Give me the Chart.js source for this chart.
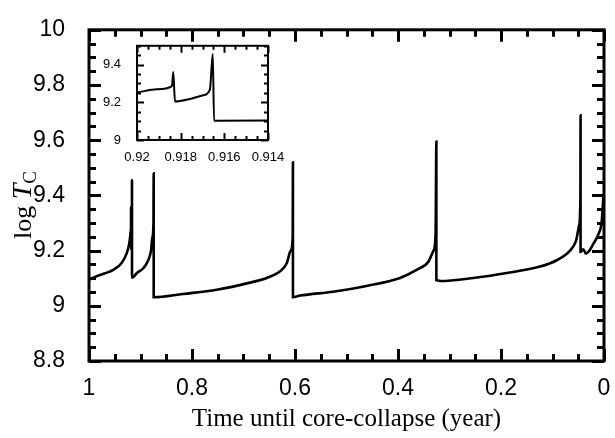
<!DOCTYPE html>
<html>
<head>
<meta charset="utf-8">
<title>Central temperature</title>
<script src="https://cdn.jsdelivr.net/npm/chart.js@4.4.1/dist/chart.umd.min.js"></script>
<style>
  html, body { margin: 0; padding: 0; background: #fff; }
  #wrap { position: relative; width: 615px; height: 438px; }
  #mainChart { position: absolute; left: 0; top: 0; }
  #insetChart { position: absolute; left: 90px; top: 30px; }
</style>
</head>
<body>
<div id="wrap">
  <canvas id="mainChart" width="615" height="438"></canvas>
  <canvas id="insetChart" width="195" height="140"></canvas>
</div>
<script>
// time until core collapse (yr) and log of central temperature
const timeYears = [
  1.000, 0.985, 0.970, 0.953, 0.937, 0.927, 0.922,
  0.9200, 0.9191, 0.9184, 0.91834, 0.91826, 0.91757, 0.91696, 0.91666, 0.91653, 0.91647, 0.914,
  0.907, 0.8946, 0.885, 0.8796, 0.877, 0.8748, 0.8744, 0.8744,
  0.8175, 0.752, 0.6874, 0.655, 0.629, 0.616, 0.6083, 0.6045, 0.6040, 0.6040,
  0.590, 0.526, 0.461, 0.396, 0.364, 0.341, 0.331, 0.327, 0.3255, 0.3255,
  0.3184, 0.2538, 0.189, 0.1243, 0.0918, 0.066, 0.0544, 0.048, 0.0458, 0.0455, 0.0455,
  0.0402, 0.0355, 0.0305, 0.0208, 0.011, 0.0045, 0.001
];
const logTc = [
  9.095, 9.107, 9.117, 9.130, 9.154, 9.189, 9.224,
  9.252, 9.269, 9.286, 9.361, 9.204, 9.218, 9.238, 9.269, 9.456, 9.102, 9.104,
  9.119, 9.136, 9.165, 9.200, 9.247, 9.300, 9.480, 9.031,
  9.043, 9.058, 9.084, 9.101, 9.125, 9.154, 9.200, 9.248, 9.520, 9.031,
  9.037, 9.051, 9.072, 9.101, 9.130, 9.160, 9.200, 9.259, 9.595, 9.093,
  9.090, 9.101, 9.119, 9.142, 9.165, 9.200, 9.235, 9.294, 9.400, 9.690, 9.195,
  9.205, 9.189, 9.195, 9.224, 9.259, 9.305, 9.400
];

const xTicks = [0, 0.2, 0.4, 0.6, 0.8, 1];
const yTicks = [8.8, 9, 9.2, 9.4, 9.6, 9.8, 10];
const insetXTicks = [0.914, 0.916, 0.918, 0.92];
const insetYTicks = [9, 9.2, 9.4];

const points = timeYears.map((t, i) => ({ x: t, y: logTc[i] }));

const sans = "'Liberation Sans', Arial, Helvetica, sans-serif";
const serif = "'Liberation Serif', 'Times New Roman', serif";
const plainNumber = v => String(Number(v.toFixed(4)));

// box around the plot with inward major/minor ticks on all four sides
const framePlugin = {
  id: 'frame',
  afterDatasetsDraw(chart, args, opts) {
    const { ctx, chartArea: a, scales: { x, y } } = chart;
    ctx.save();
    ctx.strokeStyle = '#000';
    ctx.lineWidth = opts.width;
    ctx.beginPath();
    const minors = (lo, hi, step) => {
      const out = [];
      const n = Math.round((hi - lo) / step);
      for (let i = 0; i <= n; i++) out.push(lo + i * step);
      return out;
    };
    const xs = [[opts.xMajor, opts.major], [minors(x.min, x.max, opts.xStep), opts.minor]];
    const ys = [[opts.yMajor, opts.major], [minors(y.min, y.max, opts.yStep), opts.minor]];
    xs.forEach(([vals, len]) => vals.forEach(v => {
      const px = Math.round(x.getPixelForValue(v)) + 0.5;
      ctx.moveTo(px, a.bottom); ctx.lineTo(px, a.bottom - len);
      ctx.moveTo(px, a.top); ctx.lineTo(px, a.top + len);
    }));
    ys.forEach(([vals, len]) => vals.forEach(v => {
      const py = Math.round(y.getPixelForValue(v)) + 0.5;
      ctx.moveTo(a.left, py); ctx.lineTo(a.left + len, py);
      ctx.moveTo(a.right, py); ctx.lineTo(a.right - len, py);
    }));
    ctx.stroke();
    ctx.strokeRect(a.left, a.top, a.right - a.left, a.bottom - a.top);
    ctx.restore();
  }
};

// rotated "log T_C" title, italic T with upright subscript
const yTitlePlugin = {
  id: 'yTitle',
  afterDraw(chart) {
    const ctx = chart.ctx;
    ctx.save();
    ctx.translate(31, 205);
    ctx.rotate(-Math.PI / 2);
    ctx.fillStyle = '#000';
    ctx.textBaseline = 'alphabetic';
    ctx.textAlign = 'left';
    const parts = [
      { text: 'log ', font: '26px ' + serif, dy: 0 },
      { text: 'T', font: 'italic 28px ' + serif, dy: 0 },
      { text: 'C', font: '19px ' + serif, dy: 5 }
    ];
    let total = 0;
    parts.forEach(p => { ctx.font = p.font; p.w = ctx.measureText(p.text).width; total += p.w; });
    let cx = -total / 2;
    parts.forEach(p => {
      ctx.font = p.font;
      ctx.fillText(p.text, cx, p.dy);
      cx += p.w;
    });
    ctx.restore();
  }
};

const curve = width => ({
  data: points,
  borderColor: '#000',
  borderWidth: width,
  pointRadius: 0,
  cubicInterpolationMode: 'monotone',
  fill: false
});

new Chart(document.getElementById('mainChart'), {
  type: 'line',
  data: { datasets: [curve(2.6)] },
  options: {
    responsive: false,
    animation: false,
    layout: { padding: { top: 18, right: 11, left: 0, bottom: 0 } },
    plugins: {
      legend: { display: false },
      tooltip: { enabled: false },
      frame: { width: 3, major: 12, minor: 7, xStep: 0.05, yStep: 0.05, xMajor: xTicks, yMajor: yTicks }
    },
    scales: {
      x: {
        type: 'linear',
        reverse: true,
        min: 0,
        max: 1,
        grid: { display: false },
        border: { display: false },
        afterBuildTicks: s => { s.ticks = xTicks.map(v => ({ value: v })); },
        afterFit: s => { s.height = 77; },
        ticks: { color: '#000', font: { family: sans, size: 23 }, padding: 6, maxRotation: 0, callback: plainNumber },
        title: {
          display: true,
          text: 'Time until core-collapse (year)',
          color: '#000',
          font: { family: serif, size: 25 },
          padding: { top: 0, bottom: 4 }
        }
      },
      y: {
        min: 8.8,
        max: 10,
        grid: { display: false },
        border: { display: false },
        afterBuildTicks: s => { s.ticks = yTicks.map(v => ({ value: v })); },
        afterFit: s => { s.width = 89; },
        ticks: { color: '#000', font: { family: sans, size: 23 }, padding: 16, callback: plainNumber }
      }
    }
  },
  plugins: [framePlugin, yTitlePlugin]
});

// zoomed view of the two flashes near 0.92 yr
new Chart(document.getElementById('insetChart'), {
  type: 'line',
  data: { datasets: [curve(2)] },
  options: {
    responsive: false,
    animation: false,
    layout: { padding: { top: 12, right: 17, left: 0, bottom: 0 } },
    plugins: {
      legend: { display: false },
      tooltip: { enabled: false },
      frame: { width: 2, major: 7, minor: 4, xStep: 0.0005, yStep: 0.05, xMajor: insetXTicks, yMajor: insetYTicks }
    },
    scales: {
      x: {
        type: 'linear',
        reverse: true,
        min: 0.914,
        max: 0.92,
        grid: { display: false },
        border: { display: false },
        afterBuildTicks: s => { s.ticks = insetXTicks.map(v => ({ value: v })); },
        afterFit: s => { s.height = 30; },
        ticks: { color: '#000', font: { family: sans, size: 13 }, padding: 2, maxRotation: 0, callback: plainNumber }
      },
      y: {
        min: 9,
        max: 9.5,
        grid: { display: false },
        border: { display: false },
        afterBuildTicks: s => { s.ticks = insetYTicks.map(v => ({ value: v })); },
        afterFit: s => { s.width = 47; },
        ticks: { color: '#000', font: { family: sans, size: 13 }, padding: 8, callback: plainNumber }
      }
    }
  },
  plugins: [framePlugin]
});
</script>
</body>
</html>
